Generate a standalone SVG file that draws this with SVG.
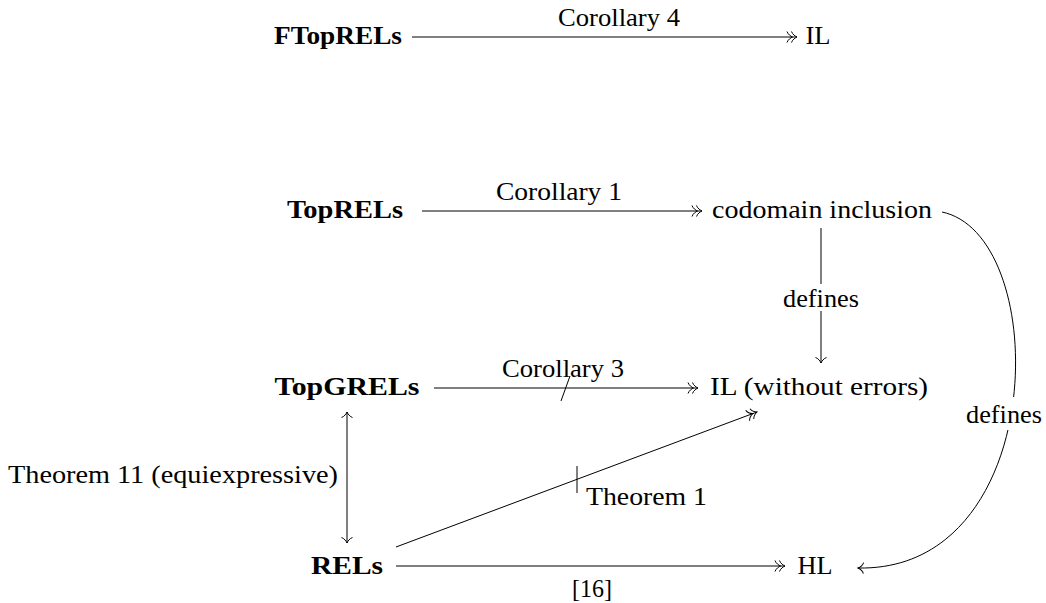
<svg xmlns="http://www.w3.org/2000/svg" width="1046" height="603" viewBox="0 0 1046 603">
<defs>
<style>
text{font-family:"Liberation Serif","DejaVu Serif",serif;font-size:26px;fill:#000}
.b{font-weight:bold}
.m{text-anchor:middle}
.e{text-anchor:end}
.ln{fill:none;stroke:#000;stroke-width:1}
</style>
<marker id="to" markerUnits="userSpaceOnUse" orient="auto-start-reverse" viewBox="-15 -10 20 20" markerWidth="20" markerHeight="20" refX="0" refY="0" overflow="visible">
<path d="M-5.5,-5.5 C-4.5,-2.5 -1.5,-0.6 0,0 C-1.5,0.6 -4.5,2.5 -5.5,5.5" fill="none" stroke="#000" stroke-width="1"/>
</marker>
<marker id="tt" markerUnits="userSpaceOnUse" orient="auto" viewBox="-15 -10 20 20" markerWidth="20" markerHeight="20" refX="0" refY="0" overflow="visible">
<path d="M-5.5,-5.5 C-4.5,-2.5 -1.5,-0.6 0,0 C-1.5,0.6 -4.5,2.5 -5.5,5.5 M-10,-5.5 C-9,-2.5 -6,-0.6 -4.5,0 C-6,0.6 -9,2.5 -10,5.5" fill="none" stroke="#000" stroke-width="1"/>
</marker>
</defs>
<rect width="1046" height="603" fill="#fff"/>

<g id="connectors">
<g id="e-ftop-il">
<line class="ln" x1="412" y1="37" x2="797" y2="37" marker-end="url(#tt)"/>
<text class="m" x="619" y="26" textLength="122" lengthAdjust="spacingAndGlyphs">Corollary 4</text>
</g>
<g id="e-top-cod">
<line class="ln" x1="422" y1="211" x2="702" y2="211" marker-end="url(#tt)"/>
<text class="m" x="559" y="200" textLength="126" lengthAdjust="spacingAndGlyphs">Corollary 1</text>
</g>
<g id="e-cod-ilwe">
<line class="ln" x1="821" y1="228" x2="821" y2="363" marker-end="url(#to)"/>
<rect x="780" y="284" width="82" height="27" fill="#fff"/>
<text class="m" x="821" y="307" textLength="76" lengthAdjust="spacingAndGlyphs">defines</text>
</g>
<g id="e-topg-ilwe">
<line class="ln" x1="434" y1="388" x2="698" y2="388" marker-end="url(#tt)"/>
<line class="ln" x1="561" y1="401" x2="570" y2="376"/>
<text class="m" x="563" y="377" textLength="122" lengthAdjust="spacingAndGlyphs">Corollary 3</text>
</g>
<g id="e-topg-rels">
<line class="ln" x1="347" y1="412" x2="347" y2="543" marker-start="url(#to)" marker-end="url(#to)"/>
<text class="e" x="338" y="483" textLength="330" lengthAdjust="spacingAndGlyphs">Theorem 11 (equiexpressive)</text>
</g>
<g id="e-rels-ilwe">
<line class="ln" x1="396" y1="547" x2="757" y2="412" marker-end="url(#tt)"/>
<line class="ln" x1="577" y1="466" x2="577" y2="493"/>
<text x="586" y="505" textLength="121" lengthAdjust="spacingAndGlyphs">Theorem 1</text>
</g>
<g id="e-rels-hl">
<line class="ln" x1="396" y1="566" x2="785" y2="566" marker-end="url(#tt)"/>
<text class="m" x="592" y="597" textLength="40" lengthAdjust="spacingAndGlyphs">[16]</text>
</g>
<g id="e-cod-hl">
<path class="ln" d="M942,212 C1052,235 1050,572 858,568" marker-end="url(#to)"/>
<rect x="964" y="397" width="80" height="33" fill="#fff"/>
<text class="m" x="1004" y="423" textLength="76" lengthAdjust="spacingAndGlyphs">defines</text>
</g>
</g>

<g id="n-ftoprels"><text class="b m" x="338" y="44" textLength="128" lengthAdjust="spacingAndGlyphs">FTopRELs</text></g>
<g id="n-il"><text class="m" x="818" y="44" textLength="25" lengthAdjust="spacingAndGlyphs">IL</text></g>
<g id="n-toprels"><text class="b m" x="345" y="218" textLength="116" lengthAdjust="spacingAndGlyphs">TopRELs</text></g>
<g id="n-cod"><text class="m" x="822" y="218" textLength="220" lengthAdjust="spacingAndGlyphs">codomain inclusion</text></g>
<g id="n-topgrels"><text class="b m" x="347" y="395" textLength="145" lengthAdjust="spacingAndGlyphs">TopGRELs</text></g>
<g id="n-ilwe"><text class="m" x="819" y="395" textLength="218" lengthAdjust="spacingAndGlyphs">IL (without errors)</text></g>
<g id="n-rels"><text class="b m" x="347" y="574" textLength="72" lengthAdjust="spacingAndGlyphs">RELs</text></g>
<g id="n-hl"><text class="m" x="815" y="574" textLength="35" lengthAdjust="spacingAndGlyphs">HL</text></g>
</svg>
